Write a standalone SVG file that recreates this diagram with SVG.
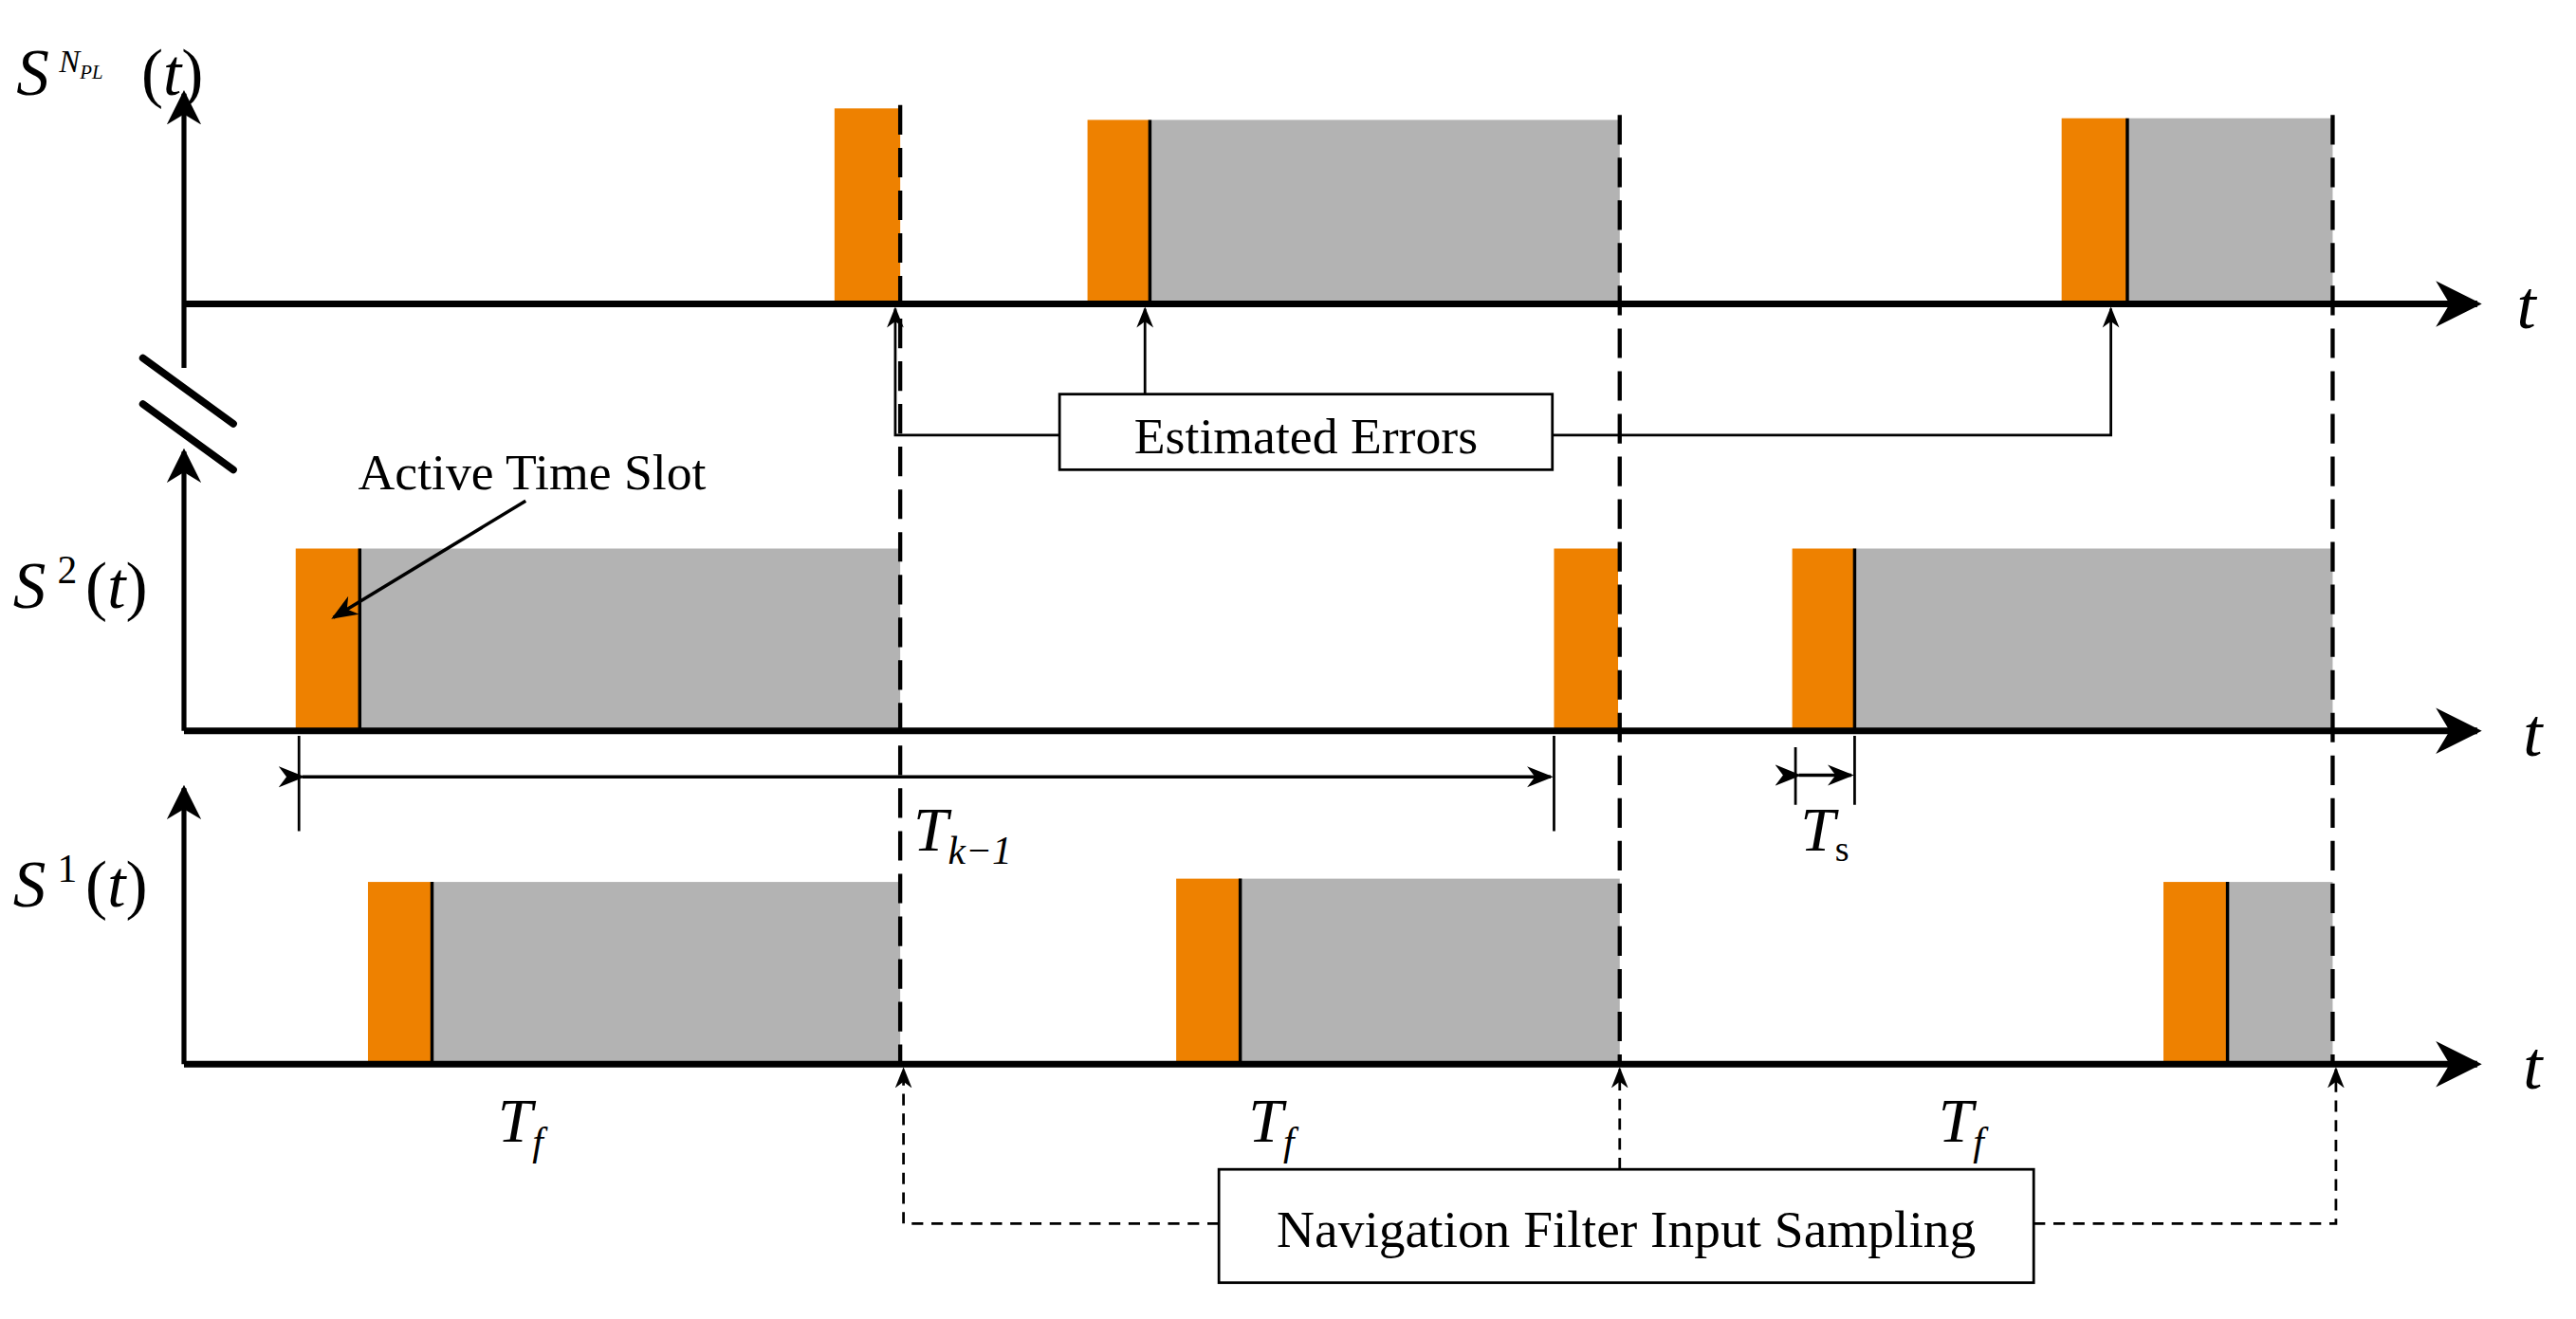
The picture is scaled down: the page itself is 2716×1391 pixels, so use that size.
<svg xmlns="http://www.w3.org/2000/svg" width="2716" height="1391" viewBox="0 0 2716 1391">
<style>
.or{fill:#ee8100}.gr{fill:#b3b3b3}
.ax{stroke:#000;stroke-width:4;fill:none}
.thin{stroke:#000;stroke-width:1.6;fill:none}
.dash{stroke:#000;stroke-width:2.5;stroke-dasharray:18 8;fill:none}
.sdash{stroke:#000;stroke-width:1.6;stroke-dasharray:7 5;fill:none}
.box{fill:#fff;stroke:#000;stroke-width:1.6}
text{font-family:"Liberation Serif","DejaVu Serif",serif;fill:#000}
.m{font-style:italic}
</style>
<defs>
<marker id="big" viewBox="0 0 10 10" refX="9" refY="5" markerWidth="7" markerHeight="7" markerUnits="userSpaceOnUse" orient="auto"><path d="M0,0 L10,5 L0,10 L3,5 Z" fill="#000"/></marker>
<marker id="ax" viewBox="0 0 10 10" refX="9" refY="5" markerWidth="7" markerHeight="7" orient="auto"><path d="M0,0 L10,5 L0,10 L3,5 Z" fill="#000"/></marker>
<marker id="sm" viewBox="0 0 10 10" refX="9" refY="5" markerWidth="8" markerHeight="8" orient="auto"><path d="M0,1 L10,5 L0,9 L3,5 Z" fill="#000"/></marker>
</defs>
<rect width="2716" height="1391" fill="#fff"/>
<g transform="scale(1.732)">
<g id="slots">
<rect class="or" x="508" y="66" width="40" height="119"/>
<rect class="or" x="662" y="73" width="38" height="112"/><rect class="gr" x="700" y="73" width="286" height="112"/>
<rect class="or" x="1255" y="72" width="40" height="113"/><rect class="gr" x="1295" y="72" width="125" height="113"/>
<rect class="or" x="180" y="334" width="39" height="111"/><rect class="gr" x="219" y="334" width="329" height="111"/>
<rect class="or" x="946" y="334" width="39" height="111"/>
<rect class="or" x="1091" y="334" width="38" height="111"/><rect class="gr" x="1129" y="334" width="291" height="111"/>
<rect class="or" x="224" y="537" width="39" height="111"/><rect class="gr" x="263" y="537" width="285" height="111"/>
<rect class="or" x="716" y="535" width="39" height="113"/><rect class="gr" x="755" y="535" width="231" height="113"/>
<rect class="or" x="1317" y="537" width="39" height="111"/><rect class="gr" x="1356" y="537" width="64" height="111"/>
<path class="thin" d="M700,73V185M1295,72V185M219,334V445M1129,334V445M263,537V648M755,535V648M1356,537V648" style="stroke-width:2"/>
</g>
<g id="connectors">
<path class="dash" d="M548,64V648M986,70V648M1420,70V648"/>
<path class="ax" d="M112,185H1508" marker-end="url(#ax)"/>
<path class="ax" d="M112,445H1508" marker-end="url(#ax)"/>
<path class="ax" d="M112,648H1508" marker-end="url(#ax)"/>
<path class="ax" d="M112,224V57" marker-end="url(#ax)" style="stroke-width:3"/>
<path class="ax" d="M112,445V275" marker-end="url(#ax)" style="stroke-width:3"/>
<path class="ax" d="M112,648V480" marker-end="url(#ax)" style="stroke-width:3"/>
<path class="ax" d="M87,218L142,258M87,246L142,286" style="stroke-width:4.5;stroke-linecap:round"/>
<path class="thin" d="M645,265H545V188" marker-end="url(#sm)"/>
<path class="thin" d="M697,240V188" marker-end="url(#sm)"/>
<path class="thin" d="M945,265H1285V188" marker-end="url(#sm)"/>
<path class="thin" d="M320,305L203,376" marker-end="url(#sm)" style="stroke-width:2"/>
<path class="sdash" d="M742,745H550V651" marker-end="url(#sm)"/>
<path class="sdash" d="M986,712V651" marker-end="url(#sm)"/>
<path class="sdash" d="M1238,745H1422V651" marker-end="url(#sm)"/>
<path class="thin" d="M182,448V506M946,448V506M1093,455V490M1129,448V490"/>
<path class="thin" d="M184,473H944" marker-start="url(#sm)" marker-end="url(#sm)" style="stroke-width:2"/>
<path class="thin" d="M1095,472H1127" marker-start="url(#sm)" marker-end="url(#sm)" style="stroke-width:2"/>
</g>
<g id="labels">
<text x="10" y="58" font-size="40" class="m">S</text><text x="36" y="44" font-size="19" class="m">N<tspan font-size="12" dy="4">PL</tspan></text><text x="86" y="58" font-size="40">(<tspan class="m">t</tspan>)</text>
<text x="8" y="370" font-size="40" class="m">S</text><text x="35" y="355" font-size="24">2</text><text x="52" y="370" font-size="40">(<tspan class="m">t</tspan>)</text>
<text x="8" y="552" font-size="40" class="m">S</text><text x="35" y="537" font-size="24">1</text><text x="52" y="552" font-size="40">(<tspan class="m">t</tspan>)</text>
<text x="1532" y="200" font-size="42" class="m">t</text>
<text x="1536" y="460" font-size="42" class="m">t</text>
<text x="1536" y="663" font-size="42" class="m">t</text>
<text x="218" y="298" font-size="31">Active Time Slot</text>
<text x="556" y="518" font-size="38" class="m">T<tspan font-size="24" dy="8">k−1</tspan></text>
<text x="1096" y="518" font-size="38" class="m">T<tspan font-size="22" dy="6" font-style="normal">s</tspan></text>
<text x="303" y="695" font-size="38" class="m">T<tspan font-size="24" dy="8">f</tspan></text>
<text x="760" y="695" font-size="38" class="m">T<tspan font-size="24" dy="8">f</tspan></text>
<text x="1180" y="695" font-size="38" class="m">T<tspan font-size="24" dy="8">f</tspan></text>
</g>
<g id="estimated">
<rect class="box" x="645" y="240" width="300" height="46"/>
<text x="795" y="276" font-size="31" text-anchor="middle">Estimated Errors</text>
</g>
<g id="nav">
<rect class="box" x="742" y="712" width="496" height="69"/>
<text x="990" y="759" font-size="32" text-anchor="middle">Navigation Filter Input Sampling</text>
</g>
</g>
</svg>
